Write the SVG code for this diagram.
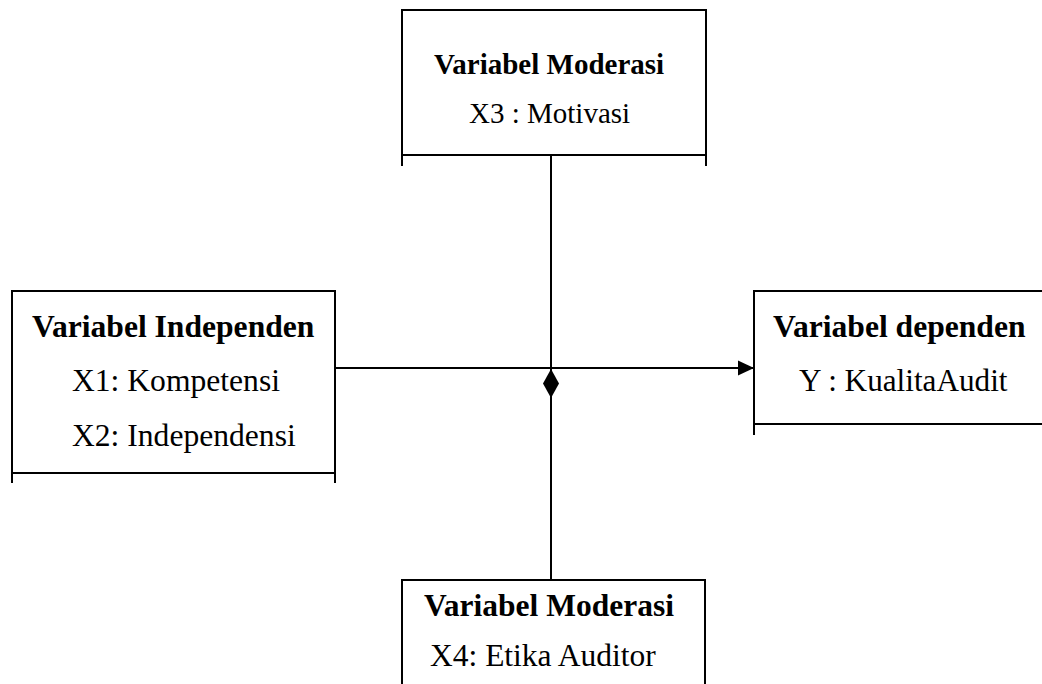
<svg xmlns="http://www.w3.org/2000/svg" width="1042" height="684" viewBox="0 0 1042 684">
<style>
.box{fill:none;stroke:#000;stroke-width:2}
.ln{fill:none;stroke:#000;stroke-width:2}
text{font-family:"Liberation Serif","Times New Roman",serif;fill:#000}
.t{font-weight:bold}
</style>
<defs>
<marker id="arr" markerWidth="16" markerHeight="16" refX="16" refY="8" orient="auto" markerUnits="userSpaceOnUse">
<path d="M0,0.5 L16,8 L0,15.5 Z" fill="#000"/>
</marker>
</defs>
<rect width="1042" height="684" fill="#fff"/>
<g id="connectors">
<line class="ln" x1="551" y1="155" x2="551" y2="580"/>
<line class="ln" x1="335" y1="368" x2="754" y2="368" marker-end="url(#arr)"/>
<path d="M551,369 L559,383.5 L551,398 L543,383.5 Z" fill="#000"/>
</g>
<g id="node-top">
<path class="box" d="M402,166 V10 H706 V166 M402,155 H706"/>
<text class="t" x="434" y="74" font-size="29">Variabel Moderasi</text>
<text x="469" y="123" font-size="29">X3 : Motivasi</text>
</g>
<g id="node-left">
<path class="box" d="M12,483 V291 H335 V483 M12,473 H335"/>
<text class="t" x="32" y="337" font-size="31.6">Variabel Independen</text>
<text x="72" y="391" font-size="31.6">X1: Kompetensi</text>
<text x="72" y="446" font-size="31.6">X2: Independensi</text>
</g>
<g id="node-right">
<path class="box" d="M754,435 V291 H1044 M754,424 H1044"/>
<text class="t" x="773" y="337" font-size="31.6">Variabel dependen</text>
<text x="799" y="391" font-size="31.2">Y : KualitaAudit</text>
</g>
<g id="node-bottom">
<path class="box" d="M402,686 V580 H705 V686"/>
<text class="t" x="424" y="616" font-size="31.5">Variabel Moderasi</text>
<text x="430" y="666" font-size="31.5">X4: Etika Auditor</text>
</g>
</svg>
